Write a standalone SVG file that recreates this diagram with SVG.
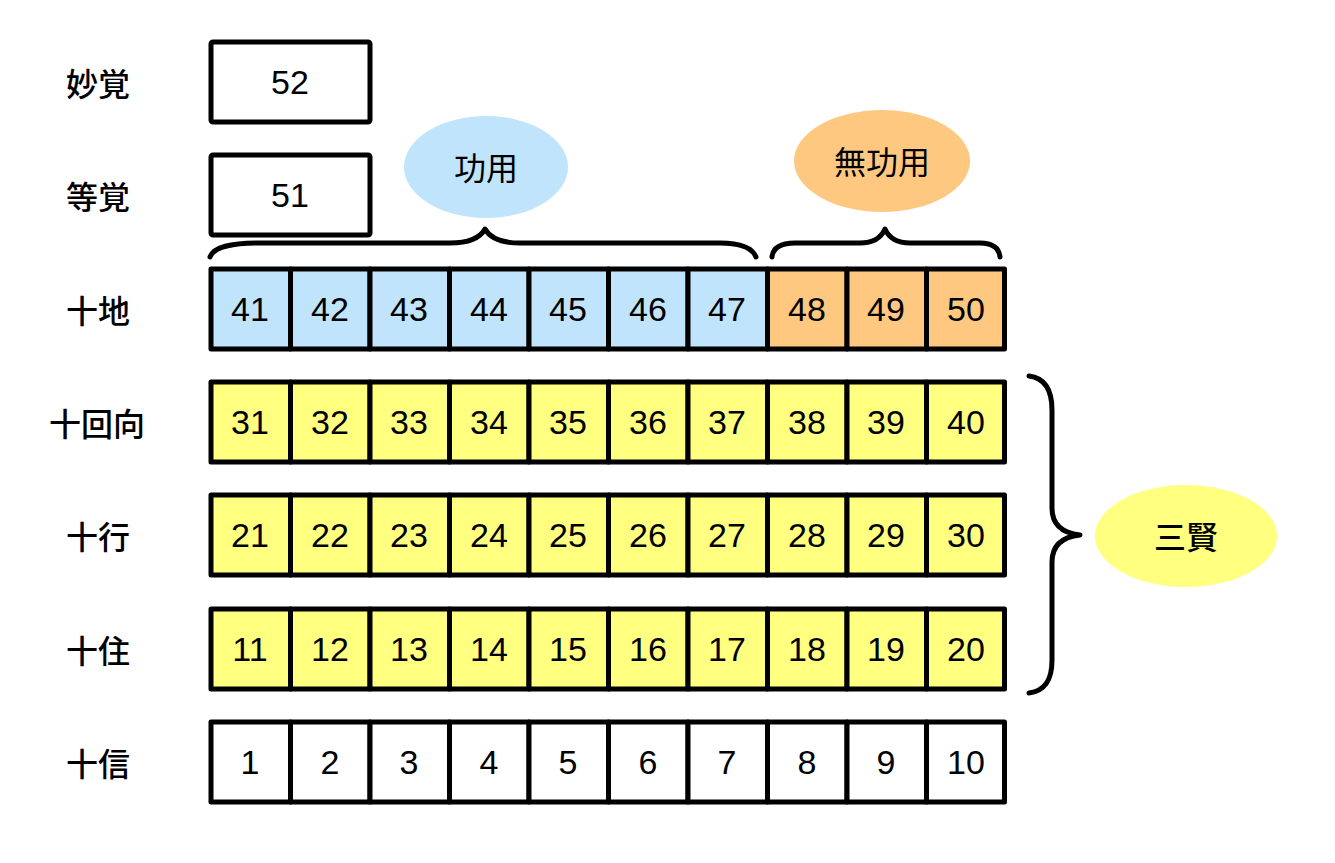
<svg xmlns="http://www.w3.org/2000/svg" width="1335" height="863" viewBox="0 0 1335 863">
<style>
.c{stroke:#000;stroke-width:5;stroke-linejoin:round}
.w{fill:#fff}.b{fill:#C0E4FC}.o{fill:#FFC880}.y{fill:#FFFF80}
.n{font-family:"Liberation Sans",Arial,sans-serif;font-size:34px;text-anchor:middle;dominant-baseline:central;fill:#000}
.l{font-family:"Noto Sans CJK JP","Noto Sans",sans-serif;font-size:32px;font-weight:500;text-anchor:middle;dominant-baseline:central;fill:#000}
.e{font-family:"Noto Sans CJK JP","Noto Sans",sans-serif;font-size:32px;font-weight:400;text-anchor:middle;dominant-baseline:central;fill:#000}
.br{fill:none;stroke:#000;stroke-width:5;stroke-linecap:round;stroke-linejoin:round}
</style>
<rect width="1335" height="863" fill="#fff"/>
<g id="labels">
<text class="l" x="98" y="82">妙覚</text>
<text class="l" x="98" y="195">等覚</text>
<text class="l" x="98" y="309">十地</text>
<text class="l" x="97" y="422">十回向</text>
<text class="l" x="98" y="535">十行</text>
<text class="l" x="98" y="649">十住</text>
<text class="l" x="98" y="762">十信</text>
</g>
<g id="n52"><rect class="c w" x="211" y="42" width="159" height="80" rx="2"/><text class="n" x="290" y="82">52</text></g>
<g id="n51"><rect class="c w" x="211" y="155" width="159" height="80" rx="2"/><text class="n" x="290" y="195">51</text></g>
<g id="row-jitchi">
<rect class="c b" x="211" y="269" width="79.5" height="80"/><text class="n" x="250" y="309">41</text>
<rect class="c b" x="290.5" y="269" width="79.5" height="80"/><text class="n" x="330" y="309">42</text>
<rect class="c b" x="370" y="269" width="79.5" height="80"/><text class="n" x="409" y="309">43</text>
<rect class="c b" x="449.5" y="269" width="79.5" height="80"/><text class="n" x="489" y="309">44</text>
<rect class="c b" x="529" y="269" width="79.5" height="80"/><text class="n" x="568" y="309">45</text>
<rect class="c b" x="608.5" y="269" width="79.5" height="80"/><text class="n" x="648" y="309">46</text>
<rect class="c b" x="688" y="269" width="79.5" height="80"/><text class="n" x="727" y="309">47</text>
<rect class="c o" x="767.5" y="269" width="79.5" height="80"/><text class="n" x="807" y="309">48</text>
<rect class="c o" x="847" y="269" width="79.5" height="80"/><text class="n" x="886" y="309">49</text>
<rect class="c o" x="926.5" y="269" width="78" height="80"/><text class="n" x="966" y="309">50</text>
</g>
<g id="row-ekou">
<rect class="c y" x="211" y="382" width="79.5" height="80"/><text class="n" x="250" y="422">31</text>
<rect class="c y" x="290.5" y="382" width="79.5" height="80"/><text class="n" x="330" y="422">32</text>
<rect class="c y" x="370" y="382" width="79.5" height="80"/><text class="n" x="409" y="422">33</text>
<rect class="c y" x="449.5" y="382" width="79.5" height="80"/><text class="n" x="489" y="422">34</text>
<rect class="c y" x="529" y="382" width="79.5" height="80"/><text class="n" x="568" y="422">35</text>
<rect class="c y" x="608.5" y="382" width="79.5" height="80"/><text class="n" x="648" y="422">36</text>
<rect class="c y" x="688" y="382" width="79.5" height="80"/><text class="n" x="727" y="422">37</text>
<rect class="c y" x="767.5" y="382" width="79.5" height="80"/><text class="n" x="807" y="422">38</text>
<rect class="c y" x="847" y="382" width="79.5" height="80"/><text class="n" x="886" y="422">39</text>
<rect class="c y" x="926.5" y="382" width="78" height="80"/><text class="n" x="966" y="422">40</text>
</g>
<g id="row-gyou">
<rect class="c y" x="211" y="495" width="79.5" height="80"/><text class="n" x="250" y="535">21</text>
<rect class="c y" x="290.5" y="495" width="79.5" height="80"/><text class="n" x="330" y="535">22</text>
<rect class="c y" x="370" y="495" width="79.5" height="80"/><text class="n" x="409" y="535">23</text>
<rect class="c y" x="449.5" y="495" width="79.5" height="80"/><text class="n" x="489" y="535">24</text>
<rect class="c y" x="529" y="495" width="79.5" height="80"/><text class="n" x="568" y="535">25</text>
<rect class="c y" x="608.5" y="495" width="79.5" height="80"/><text class="n" x="648" y="535">26</text>
<rect class="c y" x="688" y="495" width="79.5" height="80"/><text class="n" x="727" y="535">27</text>
<rect class="c y" x="767.5" y="495" width="79.5" height="80"/><text class="n" x="807" y="535">28</text>
<rect class="c y" x="847" y="495" width="79.5" height="80"/><text class="n" x="886" y="535">29</text>
<rect class="c y" x="926.5" y="495" width="78" height="80"/><text class="n" x="966" y="535">30</text>
</g>
<g id="row-juu">
<rect class="c y" x="211" y="609" width="79.5" height="80"/><text class="n" x="250" y="649">11</text>
<rect class="c y" x="290.5" y="609" width="79.5" height="80"/><text class="n" x="330" y="649">12</text>
<rect class="c y" x="370" y="609" width="79.5" height="80"/><text class="n" x="409" y="649">13</text>
<rect class="c y" x="449.5" y="609" width="79.5" height="80"/><text class="n" x="489" y="649">14</text>
<rect class="c y" x="529" y="609" width="79.5" height="80"/><text class="n" x="568" y="649">15</text>
<rect class="c y" x="608.5" y="609" width="79.5" height="80"/><text class="n" x="648" y="649">16</text>
<rect class="c y" x="688" y="609" width="79.5" height="80"/><text class="n" x="727" y="649">17</text>
<rect class="c y" x="767.5" y="609" width="79.5" height="80"/><text class="n" x="807" y="649">18</text>
<rect class="c y" x="847" y="609" width="79.5" height="80"/><text class="n" x="886" y="649">19</text>
<rect class="c y" x="926.5" y="609" width="78" height="80"/><text class="n" x="966" y="649">20</text>
</g>
<g id="row-shin">
<rect class="c w" x="211" y="722" width="79.5" height="80"/><text class="n" x="250" y="762">1</text>
<rect class="c w" x="290.5" y="722" width="79.5" height="80"/><text class="n" x="330" y="762">2</text>
<rect class="c w" x="370" y="722" width="79.5" height="80"/><text class="n" x="409" y="762">3</text>
<rect class="c w" x="449.5" y="722" width="79.5" height="80"/><text class="n" x="489" y="762">4</text>
<rect class="c w" x="529" y="722" width="79.5" height="80"/><text class="n" x="568" y="762">5</text>
<rect class="c w" x="608.5" y="722" width="79.5" height="80"/><text class="n" x="648" y="762">6</text>
<rect class="c w" x="688" y="722" width="79.5" height="80"/><text class="n" x="727" y="762">7</text>
<rect class="c w" x="767.5" y="722" width="79.5" height="80"/><text class="n" x="807" y="762">8</text>
<rect class="c w" x="847" y="722" width="79.5" height="80"/><text class="n" x="886" y="762">9</text>
<rect class="c w" x="926.5" y="722" width="78" height="80"/><text class="n" x="966" y="762">10</text>
</g>
<g id="connectors">
<path class="br" d="M210,257 C214,247 230,243 260,243 L450,243 C470,243 480,238 485,229 C490,238 500,243 520,243 L720,243 C740,243 752,247 756,257"/>
<path class="br" d="M772,257 C773,248 780,243 795,243 L860,243 C874,243 881,238 885,229 C889,238 896,243 910,243 L980,243 C993,243 999,248 1000,257"/>
<path class="br" d="M1029,376 C1045,378 1052,390 1052,410 L1052,508 C1052,525 1062,533 1080,535 C1062,537 1052,545 1052,562 L1052,660 C1052,680 1045,691 1029,693"/>
</g>
<g id="kouyou"><ellipse cx="486" cy="167" rx="82" ry="51" fill="#C0E4FC"/><text class="e" x="486" y="166">功用</text></g>
<g id="mukouyou"><ellipse cx="882" cy="161" rx="88" ry="51" fill="#FFC880"/><text class="e" x="882" y="160">無功用</text></g>
<g id="sanken"><ellipse cx="1186" cy="536" rx="91" ry="51" fill="#FFFF80"/><text class="l" x="1186" y="535">三賢</text></g>
</svg>
